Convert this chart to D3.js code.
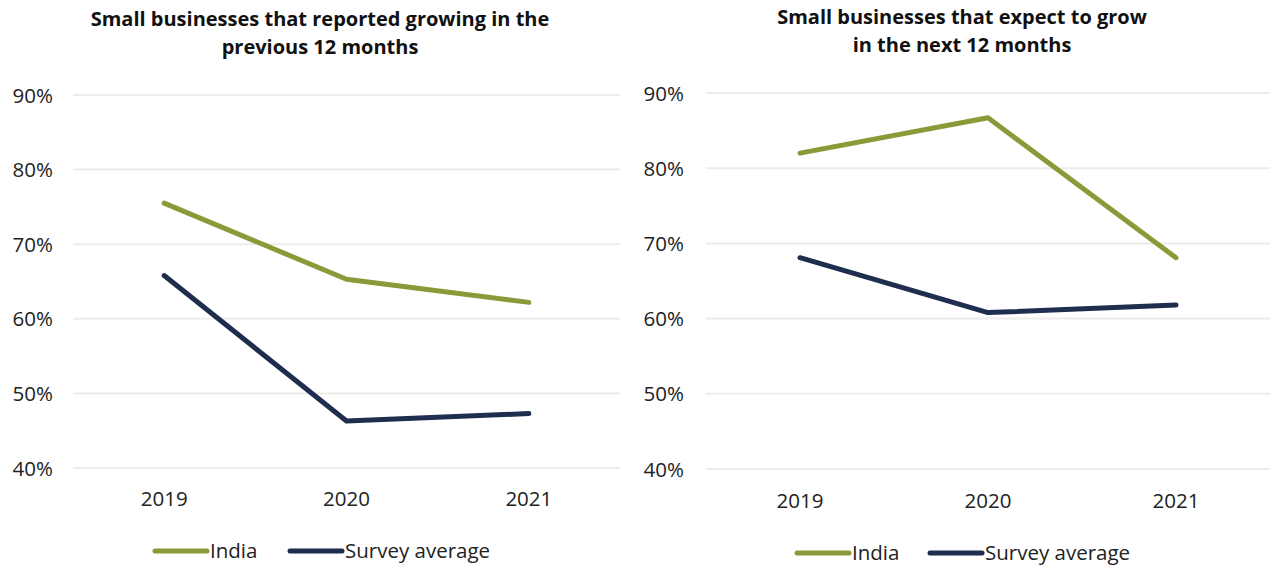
<!DOCTYPE html>
<html><head><meta charset="utf-8">
<script src="https://cdn.jsdelivr.net/npm/d3@7"></script>
<style>
body{margin:0;background:#fff;}
svg{display:block;font-family:"Open Sans",sans-serif;}
</style></head>
<body><svg id="c" width="1280" height="567"></svg>
<script>
const years = ["2019","2020","2021"];
const yTicks = [40,50,60,70,80,90];
const seriesNames = ["India","Survey average"];
const seriesColors = ["#8a9a38","#1f2d4e"];
const leftIndia = [75.5,65.3,62.2];
const leftSurvey = [65.8,46.3,47.3];
const rightIndia = [82.0,86.7,68.1];
const rightSurvey = [68.1,60.8,61.8];
const leftTitle = ["Small businesses that reported growing in the","previous 12 months"];
const rightTitle = ["Small businesses that expect to grow","in the next 12 months"];

const svg = d3.select("#c");
const FONT = "'Open Sans',sans-serif";
const LS = 20.5;

function panel(cfg){
  const g = svg.append("g");
  const x = d3.scaleBand().domain(years).range([cfg.x0,cfg.x1]);
  const y = d3.scaleLinear().domain([40,90]).range([cfg.yb,cfg.yt]);
  cfg.title.forEach((t,i)=>{
    g.append("text").attr("x",cfg.tx).attr("y",cfg.ty+i*28).attr("text-anchor","middle")
      .attr("font-weight","bold").attr("font-size",20).attr("fill","#111").text(t);
  });
  g.append("g").selectAll("line").data(yTicks).join("line")
    .attr("x1",cfg.x0).attr("x2",cfg.x1).attr("y1",d=>y(d)).attr("y2",d=>y(d))
    .attr("stroke","#ecece8").attr("stroke-width",2);
  const ya = d3.axisLeft(y).tickValues(yTicks).tickFormat(d=>d+"%").tickSize(0).tickPadding(0);
  const yg = g.append("g").attr("transform",`translate(${cfg.ylx},0)`).call(ya);
  yg.select(".domain").remove();
  yg.selectAll("text").attr("font-size",LS).attr("fill","#222").attr("font-family",FONT).attr("dy","0.35em");
  const xa = d3.axisBottom(x).tickSize(0).tickPadding(0);
  const xg = g.append("g").attr("transform",`translate(0,${cfg.xly})`).call(xa);
  xg.select(".domain").remove();
  xg.selectAll("text").attr("font-size",LS).attr("fill","#222").attr("font-family",FONT).attr("dy","0");
  const line = d3.line().x((d,i)=>x(years[i])+x.bandwidth()/2).y(d=>y(d));
  [cfg.india,cfg.survey].forEach((s,i)=>{
    g.append("path").attr("d",line(s)).attr("fill","none").attr("stroke",seriesColors[i])
      .attr("stroke-width",5).attr("stroke-linecap","round").attr("stroke-linejoin","round");
  });
  const lx = [cfg.lg0, cfg.lg1];
  seriesNames.forEach((n,i)=>{
    g.append("line").attr("x1",lx[i]).attr("x2",lx[i]+52).attr("y1",cfg.ly).attr("y2",cfg.ly)
      .attr("stroke",seriesColors[i]).attr("stroke-width",5).attr("stroke-linecap","round");
    g.append("text").attr("x",lx[i]+55).attr("y",cfg.ly).attr("dy","0.35em")
      .attr("font-size",LS).attr("fill","#222").text(n);
  });
}

panel({x0:73,x1:620,yt:95,yb:468,title:leftTitle,tx:320,ty:26,ylx:53,xly:506,
  india:leftIndia,survey:leftSurvey,lg0:155,lg1:290,ly:551});
panel({x0:706,x1:1270,yt:93,yb:469,title:rightTitle,tx:962,ty:24,ylx:684,xly:508,
  india:rightIndia,survey:rightSurvey,lg0:797,lg1:930,ly:553});
</script></body></html>
